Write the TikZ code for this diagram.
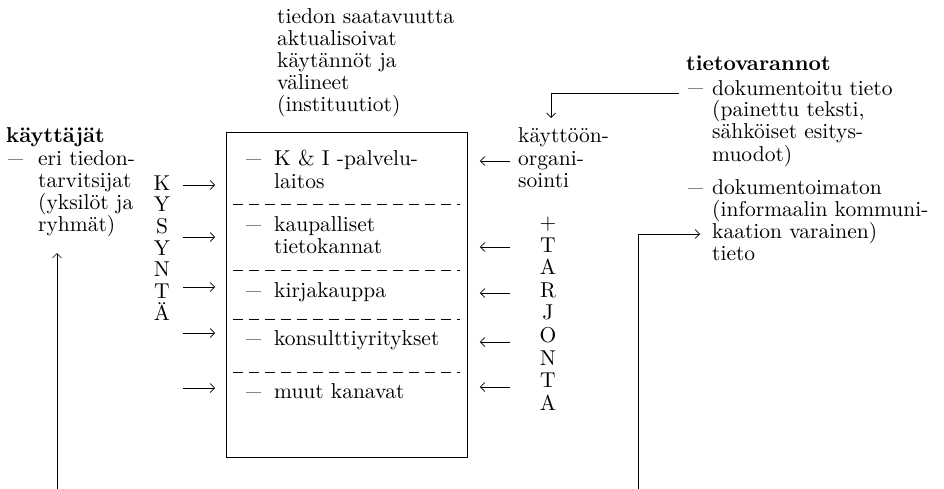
\documentclass[tikz,border=0pt]{standalone}
\usepackage{fontspec}
\setmainfont{lmroman10-regular}[Extension=.otf, BoldFont=lmroman10-bold]
\usetikzlibrary{arrows.meta}
\newcommand\fsz{\fontsize{21.5}{22}\selectfont}
\newcommand\fszl{\fontsize{21.5}{21.7}\selectfont}
\newcommand\fszr{\fontsize{21.5}{22.6}\selectfont}
\newcommand\dsh{\scalebox{1.4}[1]{–}}
\begin{document}
\begin{tikzpicture}[x=1pt,y=-1pt,
  txt/.style={anchor=base west, inner sep=0pt, align=left, font=\fsz},
  col/.style={anchor=base, inner sep=0pt, align=center},
  arr/.style={-{Straight Barb[length=4.5pt,width=9pt]}, line width=0.7pt},
  sep/.style={line width=0.7pt, dash pattern=on 10pt off 6pt},
  frame/.style={draw, line width=0.9pt, inner sep=0pt, anchor=north west}]
\useasboundingbox (0,0) rectangle (944,489);
% top label (anchor = baseline of last line)
\node[txt] (inst) at (277,112) {tiedon saatavuutta\\aktualisoivat\\käytännöt ja\\välineet\\(instituutiot)};
% central box
\node[frame, minimum width=241pt, minimum height=325pt] (box) at (226,132) {};
\node[txt] (d1) at (246,166) {\dsh};
\node[txt] (i1) at (274,188) {K \& I -palvelu-\\laitos};
\node[txt] (d2) at (246,231) {\dsh};
\node[txt] (i2) at (274,253) {kaupalliset\\tietokannat};
\node[txt] (d3) at (246,297) {\dsh};
\node[txt] (i3) at (274,297) {kirjakauppa};
\node[txt] (d4) at (246,345) {\dsh};
\node[txt] (i4) at (274,345) {konsulttiyritykset};
\node[txt] (d5) at (246,398) {\dsh};
\node[txt] (i5) at (274,398) {muut kanavat};
\foreach \y in {204,270,319,372} \draw[sep] (233,\y) -- (460,\y);
% users
\node[txt, font=\fsz\bfseries] (users) at (6,143) {käyttäjät};
\node[txt] (ud) at (8,165) {\dsh};
\node[txt] (ut) at (38,231) {eri tiedon-\\tarvitsijat\\(yksilöt ja\\ryhmät)};
\coordinate (ub) at (57,489);
\coordinate (ua) at (57,253);
\draw[arr] (ub) -- (ua);
% demand
\node[col, font=\fszl] (kys) at (162,320.2) {K\\Y\\S\\Y\\N\\T\\Ä};
\foreach \y [count=\i] in {185,237,287,333,388} {
  \coordinate (l\i) at (183,\y);
  \draw[arr] (l\i) -- ([xshift=-11pt]l\i -| box.west);
}
% supply
\node[txt] (org) at (518,187) {käyttöön-\\organi-\\sointi};
\foreach \y [count=\i] in {161,247,293,342,387} {
  \coordinate (r\i) at (510,\y);
  \draw[arr] (r\i) -- ([xshift=12pt]r\i -| box.east);
}
\node[col, font=\fszr] (tar) at (548,410.3) {+\\T\\A\\R\\J\\O\\N\\T\\A};
% resources
\node[txt, font=\fsz\bfseries] (res) at (686,71) {tietovarannot};
\node[txt] (rd1) at (688,95) {\dsh};
\node[txt] (rt1) at (712,161) {dokumentoitu tieto\\(painettu teksti,\\sähköiset esitys-\\muodot)};
\node[txt] (rd2) at (688,194) {\dsh};
\node[txt] (rt2) at (712,260) {dokumentoimaton\\(informaalin kommuni-\\kaation varainen)\\tieto};
\coordinate (c1) at (679,93);
\coordinate (c2) at (551,93);
\coordinate (c3) at (551,118);
\draw[arr] (c1) -- (c2) -- (c3);
\coordinate (b1) at (638,489);
\coordinate (b2) at (638,234);
\coordinate (b3) at (700,234);
\draw[arr] (b1) -- (b2) -- (b3);
\end{tikzpicture}
\end{document}
